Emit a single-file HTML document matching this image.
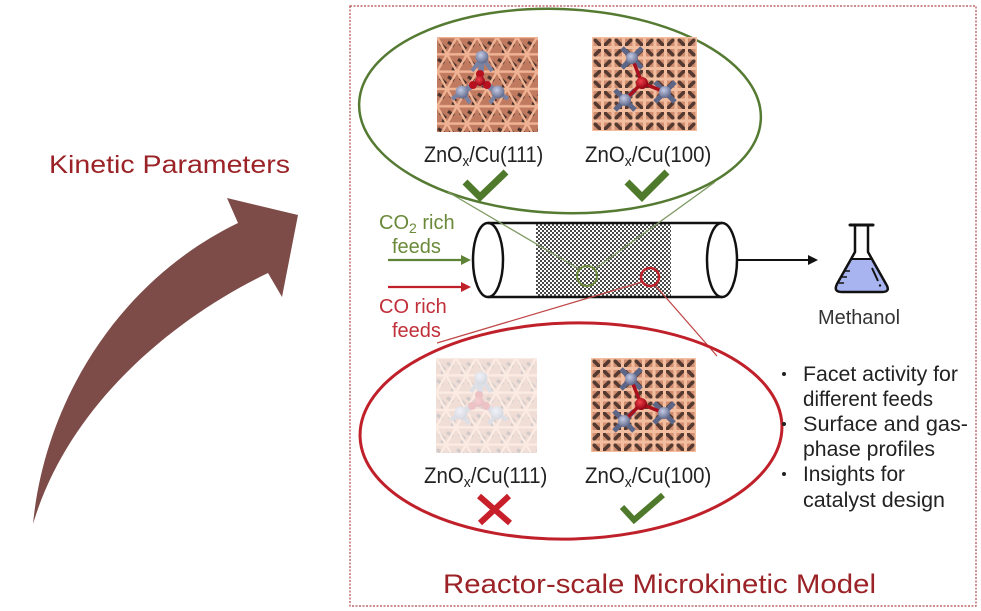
<!DOCTYPE html>
<html>
<head>
<meta charset="utf-8">
<style>
  html,body{margin:0;padding:0;background:#fff;}
  svg{display:block;}
  text{font-family:"Liberation Sans", Arial, sans-serif;}
</style>
</head>
<body>
<svg width="981" height="611" viewBox="0 0 981 611" xmlns="http://www.w3.org/2000/svg">
  <defs>
    <pattern id="p111" width="20" height="34.64" patternUnits="userSpaceOnUse">
      <rect width="20" height="34.64" fill="#c07a60"/>
      <path d="M3 6.5 L9 12 M13 23.8 L19 29.5 M11 5 L17 9 M1 22.3 L7 26.3 M5 14 L9 15.5 M15 31.5 L19 33" stroke="#4a322c" stroke-width="3.2"/>
      <path d="M0 0H20M0 17.32H20M0 34.64H20M0 0L20 34.64M20 0L0 34.64" stroke="#f0b494" stroke-width="2.4"/>
    </pattern>
    <pattern id="p100" width="21" height="21" patternUnits="userSpaceOnUse">
      <rect width="21" height="21" fill="#d08d70"/>
      <path d="M2 2L9 9M19 2L12 9M2 19L9 12M19 19L12 12" stroke="#53392f" stroke-width="3.6"/>
      <path d="M0 0H21M0 10.5H21M0 21H21M0 0V21M10.5 0V21M21 0V21" stroke="#f3bea0" stroke-width="3"/>
    </pattern>
    <pattern id="hatch" width="4" height="4" patternUnits="userSpaceOnUse">
      <rect width="4" height="4" fill="#fff"/>
      <rect width="2" height="2" fill="#4a4a4a"/>
      <rect x="2" y="2" width="2" height="2" fill="#4a4a4a"/>
    </pattern>
    <radialGradient id="gZn" cx="40%" cy="35%" r="65%">
      <stop offset="0" stop-color="#c4cbe6"/>
      <stop offset="1" stop-color="#626a8c"/>
    </radialGradient>
    <radialGradient id="gO" cx="40%" cy="35%" r="65%">
      <stop offset="0" stop-color="#f0404a"/>
      <stop offset="1" stop-color="#900010"/>
    </radialGradient>
    <clipPath id="c111"><rect width="101" height="95"/></clipPath>
    <clipPath id="c100"><rect width="105" height="94"/></clipPath>

    <g id="im111" clip-path="url(#c111)">
      <rect width="101" height="95" fill="url(#p111)"/>
      <path d="M45 20L43 44M25 55L43 44M61 55L43 44" stroke="#7a82a4" stroke-width="6"/>
      <path d="M45 20L35 34M45 20L55 34M25 55L15 62M25 55L33 66M61 55L71 62M61 55L53 66" stroke="#7a82a4" stroke-width="4"/>
      <circle cx="45" cy="20" r="6.5" fill="url(#gZn)"/>
      <circle cx="25" cy="55" r="6.5" fill="url(#gZn)"/>
      <circle cx="61" cy="55" r="6.5" fill="url(#gZn)"/>
      <circle cx="43" cy="37" r="4" fill="#b8101e"/>
      <circle cx="36" cy="48" r="4" fill="#b8101e"/>
      <circle cx="50" cy="48" r="4" fill="#b8101e"/>
      <circle cx="43" cy="44" r="5" fill="url(#gO)"/>
    </g>

    <g id="im100" clip-path="url(#c100)">
      <rect width="105" height="94" fill="url(#p100)"/>
      <path d="M30 11L50 31M50 11L30 31M23 53L43 73M43 53L23 73M63 45L83 65M83 45L63 65" stroke="#5e6688" stroke-width="5"/>
      <path d="M50 46L40 21M50 46L33 63M50 46L73 55" stroke="#a8101c" stroke-width="3.5"/>
      <circle cx="40" cy="21" r="6" fill="url(#gZn)"/>
      <circle cx="33" cy="63" r="6" fill="url(#gZn)"/>
      <circle cx="73" cy="55" r="6" fill="url(#gZn)"/>
      <circle cx="50" cy="46" r="6" fill="url(#gO)"/>
    </g>
  </defs>

  <rect width="981" height="611" fill="#fff"/>

  <!-- dashed frame -->
  <rect x="350" y="6" width="626" height="600" fill="none" stroke="#b04a4a" stroke-width="1.2" stroke-dasharray="2 1.5"/>

  <!-- big curved arrow -->
  <path d="M33 524 C45 400 120 280 238 223 L227 198 L298 215 L282 297 L268 273 C180 315 70 400 33 524 Z" fill="#7d4b48"/>

  <text x="49" y="173" font-size="25" fill="#9b2226" textLength="241" lengthAdjust="spacingAndGlyphs">Kinetic Parameters</text>

  <!-- top ellipse -->
  <ellipse cx="560" cy="111" rx="201" ry="102" transform="rotate(2.3 560 111)" fill="none" stroke="#557a32" stroke-width="2.5"/>

  <use href="#im111" x="437" y="37"/>
  <use href="#im100" x="592" y="37"/>

  <g transform="translate(424 162) scale(0.9 1)">
    <text x="0" y="0" font-size="22" fill="#222">ZnO<tspan font-size="15" dy="4">x</tspan><tspan dy="-4">/Cu(111)</tspan></text>
  </g>
  <g transform="translate(585 162) scale(0.93 1)">
    <text x="0" y="0" font-size="22" fill="#222">ZnO<tspan font-size="15" dy="4">x</tspan><tspan dy="-4">/Cu(100)</tspan></text>
  </g>

  <path d="M465 182L480 197L506 172" fill="none" stroke="#4f7a2c" stroke-width="7"/>
  <path d="M627 182L642 197L667 172" fill="none" stroke="#4f7a2c" stroke-width="7"/>

  <!-- reactor -->
  <rect x="536" y="224" width="135" height="72" fill="url(#hatch)"/>
  <path d="M488 223H722M488 297H722" stroke="#111" stroke-width="2.5"/>
  <ellipse cx="488" cy="260" rx="15" ry="37" fill="none" stroke="#111" stroke-width="2.5"/>
  <ellipse cx="722" cy="260" rx="15" ry="37" fill="none" stroke="#111" stroke-width="2.5"/>

  <!-- green zoom lines -->
  <path d="M448 192L579 269M715 182L596 268" stroke="#7d9a62" stroke-width="1.3" fill="none"/>
  <circle cx="587" cy="276" r="10" fill="none" stroke="#6a8a3a" stroke-width="2"/>

  <!-- red zoom lines -->
  <path d="M642 282L437 343M655 285L717 356" stroke="#c04848" stroke-width="1.3" fill="none"/>
  <circle cx="650" cy="277" r="9" fill="none" stroke="#c0202a" stroke-width="2.5"/>

  <!-- output arrow -->
  <path d="M737 260H810" stroke="#111" stroke-width="2"/>
  <polygon points="818,260 808,255 808,265" fill="#111"/>

  <!-- feed arrows -->
  <path d="M388 260H463" stroke="#5e8236" stroke-width="2.2"/>
  <polygon points="471,260 461,255 461,265" fill="#5e8236"/>
  <path d="M388 287H463" stroke="#c0202a" stroke-width="2.2"/>
  <polygon points="471,287 461,282 461,292" fill="#c0202a"/>

  <text x="379" y="229" font-size="20" fill="#6a8a3a">CO<tspan font-size="14" dy="4">2</tspan><tspan dy="-4"> rich</tspan></text>
  <text x="392" y="253" font-size="20" fill="#6a8a3a">feeds</text>
  <text x="379" y="313" font-size="20" fill="#c0303a">CO rich</text>
  <text x="392" y="337" font-size="20" fill="#c0303a">feeds</text>

  <!-- flask -->
  <path d="M851 259L872 259L886 284Q890 292 882 292L842 292Q834 292 837 284Z" fill="#a8b4f0"/>
  <path d="M855 226L855 252L837 284Q833 292 842 292L882 292Q891 292 886 284L868 252L868 226" fill="none" stroke="#111" stroke-width="2.5" stroke-linejoin="round"/>
  <path d="M850 225H873" stroke="#111" stroke-width="3" stroke-linecap="round"/>
  <path d="M850 259H873" stroke="#111" stroke-width="2"/>
  <path d="M845 271h5M842 277h5M839 283h5" stroke="#111" stroke-width="1.6"/>
  <path d="M872 268L878 281" stroke="#111" stroke-width="2"/>
  <circle cx="880" cy="285.5" r="1.2" fill="#111"/>
  <text x="818" y="324" font-size="20" fill="#333" textLength="82" lengthAdjust="spacingAndGlyphs">Methanol</text>

  <!-- bottom ellipse -->
  <ellipse cx="571" cy="431" rx="211" ry="108" transform="rotate(-1.5 571 431)" fill="none" stroke="#c0202a" stroke-width="3"/>

  <use href="#im111" x="436" y="358" opacity="0.25"/>
  <use href="#im100" x="591" y="358"/>

  <g transform="translate(424 483) scale(0.93 1)">
    <text x="0" y="0" font-size="22" fill="#222">ZnO<tspan font-size="15" dy="4">x</tspan><tspan dy="-4">/Cu(111)</tspan></text>
  </g>
  <g transform="translate(585 483) scale(0.93 1)">
    <text x="0" y="0" font-size="22" fill="#222">ZnO<tspan font-size="15" dy="4">x</tspan><tspan dy="-4">/Cu(100)</tspan></text>
  </g>

  <path d="M479 496L510 523M509 496L480 523" stroke="#c8202a" stroke-width="6"/>
  <path d="M622 507L634 520L663 495" fill="none" stroke="#4f7a2c" stroke-width="6"/>

  <!-- bullets -->
  <g fill="#222">
    <circle cx="784" cy="374" r="2"/>
    <circle cx="784" cy="424" r="2"/>
    <circle cx="784" cy="474" r="2"/>
  </g>
  <g font-size="21" fill="#222">
    <text x="803" y="381" textLength="155" lengthAdjust="spacingAndGlyphs">Facet activity for</text>
    <text x="803" y="406" textLength="130" lengthAdjust="spacingAndGlyphs">different feeds</text>
    <text x="803" y="431" textLength="165" lengthAdjust="spacingAndGlyphs">Surface and gas-</text>
    <text x="803" y="456" textLength="132" lengthAdjust="spacingAndGlyphs">phase profiles</text>
    <text x="803" y="481" textLength="102" lengthAdjust="spacingAndGlyphs">Insights for</text>
    <text x="803" y="507" textLength="142" lengthAdjust="spacingAndGlyphs">catalyst design</text>
  </g>

  <text x="443" y="593" font-size="27" fill="#9b2226" textLength="433" lengthAdjust="spacingAndGlyphs">Reactor-scale Microkinetic Model</text>
</svg>
</body>
</html>
